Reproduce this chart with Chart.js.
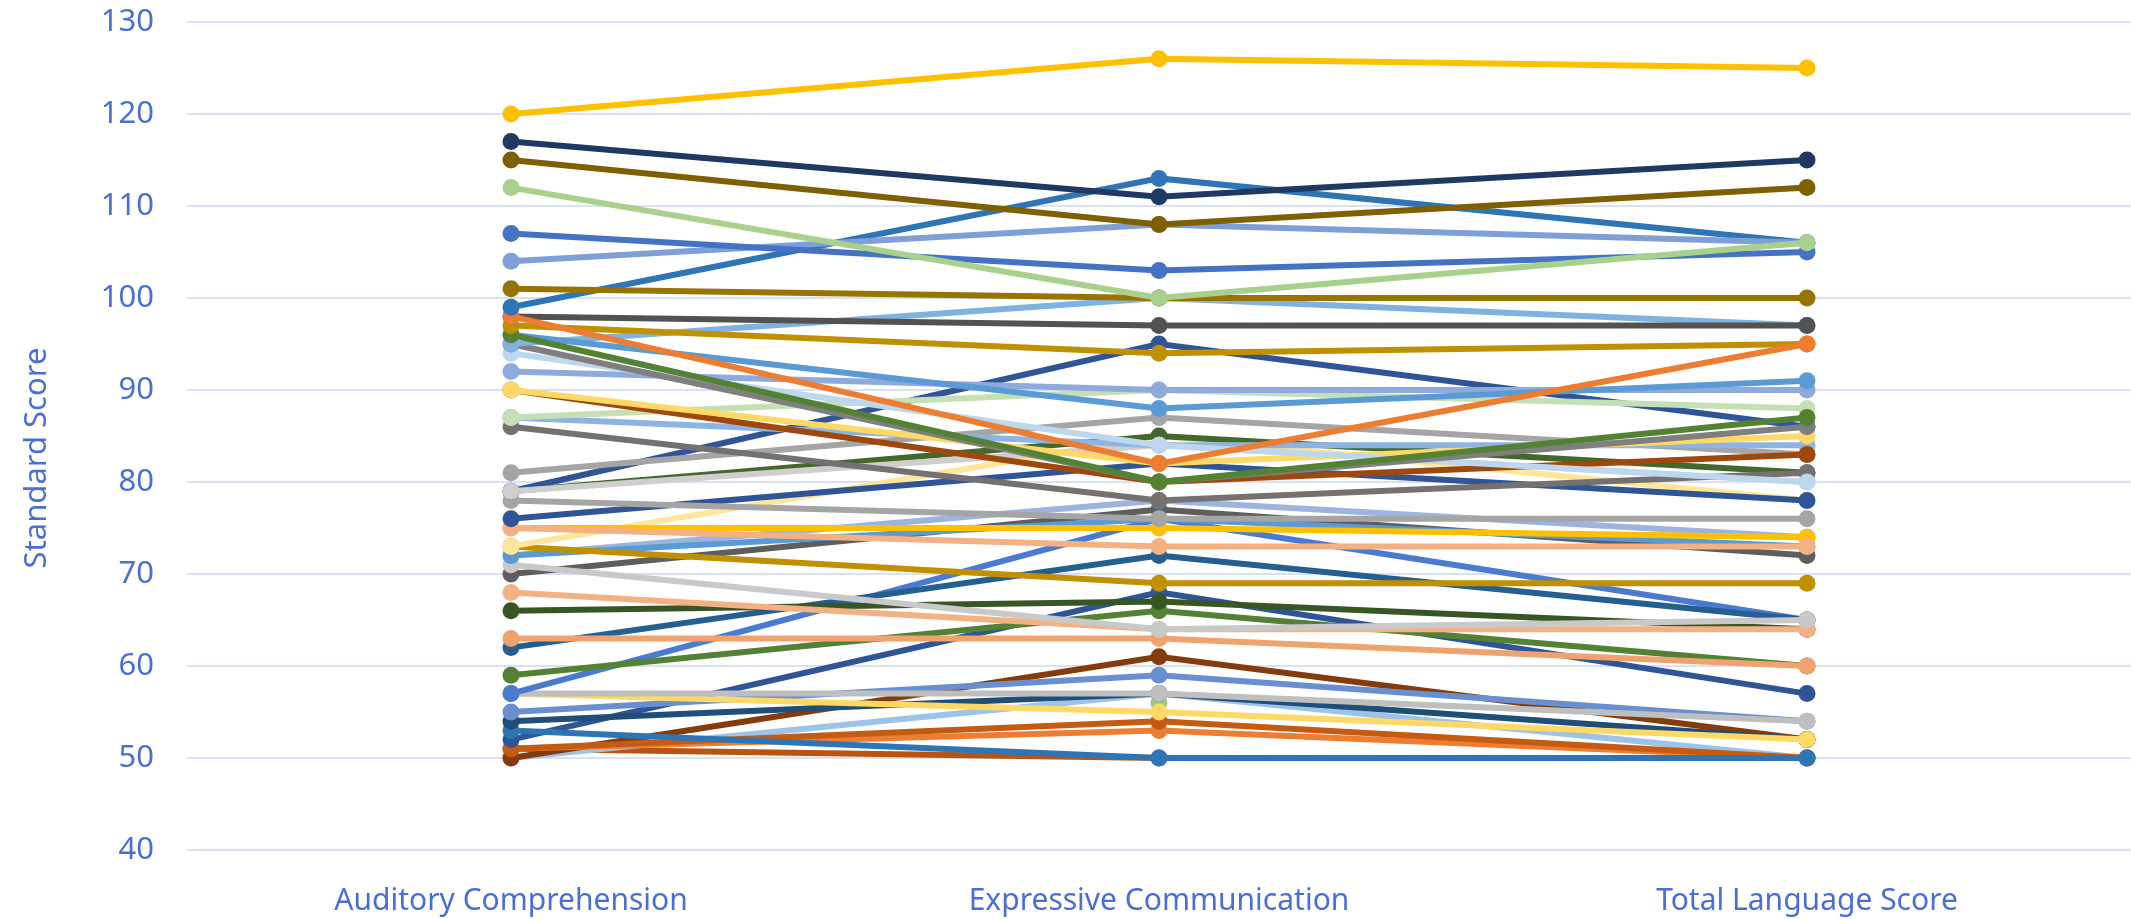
<!DOCTYPE html>
<html><head><meta charset="utf-8">
<script src="https://cdn.jsdelivr.net/npm/chart.js@4.4.1/dist/chart.umd.min.js"></script>
<style>html,body{margin:0;padding:0;background:#fff}#wrap{width:2131px;height:919px;position:relative}</style>
</head><body><div id="wrap"><canvas id="c"></canvas></div>
<script>
const categories = ["Auditory Comprehension", "Expressive Communication", "Total Language Score"];
const auditory   = [120,117,115,112,107,104,101, 99, 98, 98, 97, 96, 96, 95, 95, 94, 92, 90, 90, 87, 87, 86, 81, 79, 79, 79, 78, 76, 75, 75, 73, 73, 72, 72, 71, 70, 68, 66, 63, 62, 59, 57, 57, 57, 55, 54, 53, 52, 51, 51, 50, 50, 51, null];
const expressive = [126,111,108,100,103,108,100,113, 82, 97, 94, 80, 88,100, 80, 84, 90, 82, 80, 90, 84, 78, 87, 84, 95, 85, 76, 82, 73, 75, 85, 69, 76, 78, 64, 77, 64, 67, 63, 72, 66, 76, 57, 55, 59, 57, 50, 68, 54, 53, 61, 57, 50, 56];
const total      = [125,115,112,106,105,106,100,106, 95, 97, 95, 87, 91, 97, 86, 80, 90, 85, 83, 88, 84, 81, 83, 80, 86, 81, 76, 78, 73, 74, 78, 69, 73, 74, 65, 72, 64, 64, 60, 65, 60, 65, 54, 52, 54, 52, 50, 57, 50, 50, 52, 50, 50, null];
const lineColors = ["#FFC000","#203864","#7F6000","#A9D18E","#4472C4","#7F9FD7","#997300","#2E75B6","#ED7D31","#525252",
  "#BF9000","#548235","#5B9BD5","#7FB2E0","#7F7F7F","#BDD7EE","#8FAADC","#FFD966","#9E480E","#C5E0B4",
  "#8DB4E2","#767171","#A5A5A5","#D0CECE","#2F5597","#43682B","#A5A5A5","#2F5597","#F4B183","#FFC000",
  "#FFE699","#C09000","#5B9BD5","#9DB3E0","#C9C9C9","#5E5E5E","#F4B183","#375623","#F1A36F","#255E91",
  "#548235","#4A7BD0","#BFBFBF","#FFD966","#6A8FD0","#1F4E79","#2E75B6","#2F5597","#C55A11","#ED7D31",
  "#843C0C","#9DC3E6","#B9530F","#9DC97A"];
const yTitle = "Standard Score";
const yMin = 40, yMax = 130, yStep = 10;
const textColor = "#4A6FD4";
const fontFamily = "'Noto Sans', 'Open Sans', sans-serif";

const datasets = auditory.map((a, i) => ({
  label: "S" + (i + 1),
  data: [a, expressive[i], total[i]],
  borderColor: lineColors[i],
  backgroundColor: lineColors[i],
  borderWidth: 6,
  pointRadius: 8.5,
  pointHoverRadius: 8.5,
  pointBorderWidth: 0,
  tension: 0,
  spanGaps: false
}));

const yTitlePlugin = {
  id: "yTitlePlugin",
  afterDraw(chart) {
    const ctx = chart.ctx;
    ctx.save();
    ctx.translate(37, 458);
    ctx.rotate(-Math.PI / 2);
    ctx.fillStyle = textColor;
    ctx.font = "31px " + fontFamily;
    ctx.textAlign = "center";
    ctx.textBaseline = "middle";
    ctx.fillText(yTitle, 0, 0);
    ctx.restore();
  }
};

new Chart(document.getElementById("c"), {
  type: "line",
  data: { labels: categories, datasets },
  plugins: [yTitlePlugin],
  options: {
    responsive: true,
    maintainAspectRatio: false,
    animation: false,
    layout: { autoPadding: false, padding: { top: 22, right: 0, bottom: 0, left: 0 } },
    plugins: { legend: { display: false }, tooltip: { enabled: false } },
    scales: {
      x: {
        offset: true,
        grid: { display: false, drawTicks: false },
        border: { display: false },
        ticks: { color: textColor, font: { family: fontFamily, size: 30 }, padding: 33, maxRotation: 0 },
        afterFit: s => { s.height = 69; s.paddingLeft = 0; s.paddingRight = 0; }
      },
      y: {
        min: yMin, max: yMax,
        ticks: { stepSize: yStep, color: textColor, font: { family: fontFamily, size: 31 }, padding: 33 },
        grid: { color: "#D9E1F2", lineWidth: 2, drawTicks: false },
        border: { display: false },
        title: { display: false },
        afterFit: s => { s.width = 187; s.paddingTop = 0; s.paddingBottom = 0; }
      }
    }
  }
});
</script></body></html>
